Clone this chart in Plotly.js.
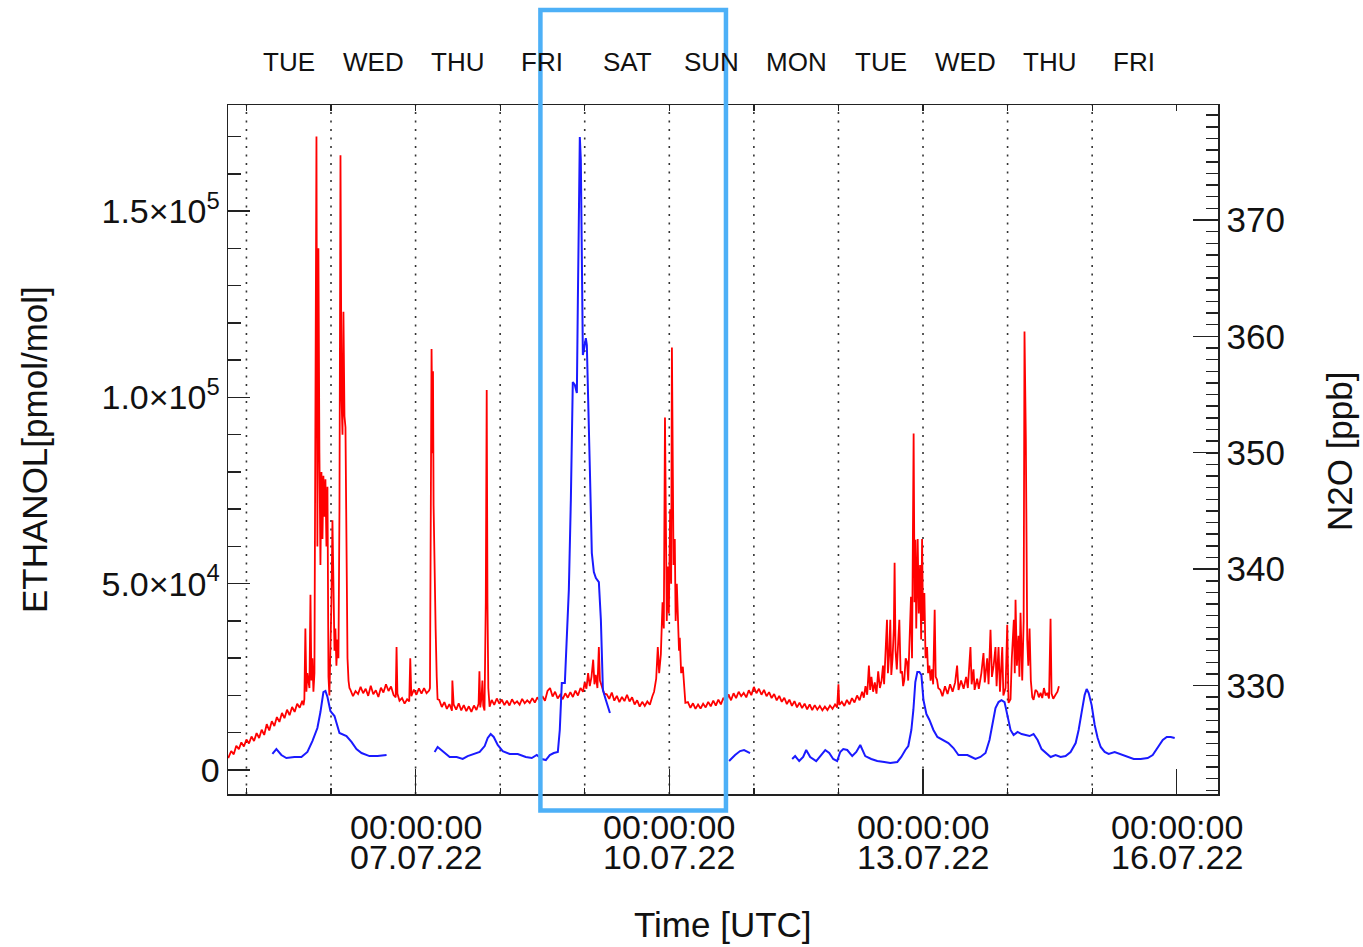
<!DOCTYPE html>
<html><head><meta charset="utf-8">
<script src="https://cdn.plot.ly/plotly-3.0.1.min.js"></script>
<style>html,body{margin:0;padding:0;background:#fff}#chart{width:1363px;height:947px}</style>
</head><body><div id="chart"></div>
<script>
// Time is given as decimal day of July 2022 (UTC)
const ethanolPoints = [
[4.785,3200],[4.82,5100],[4.85,4200],[4.88,6500],[4.91,5600],[4.94,7400],[4.97,6300],[5.00,8200],[5.03,7100],[5.06,9000],[5.09,7800],[5.12,9900],[5.15,8600],[5.18,10800],[5.21,9400],[5.24,12300],[5.27,10600],[5.30,13100],[5.33,11800],[5.36,14200],[5.39,12900],[5.42,15300],[5.45,13900],[5.48,16200],[5.51,14700],[5.54,16900],[5.57,15600],[5.60,17800],[5.63,16700],[5.66,18600],[5.675,17400],
[5.685,19000],[5.697,38000],[5.709,21000],[5.72,26000],[5.745,22000],[5.757,47000],[5.768,24000],[5.78,30000],[5.792,21000],[5.804,26000],[5.816,100000],[5.828,170000],[5.839,60000],[5.851,140000],[5.863,85000],[5.875,55000],[5.887,80000],[5.899,62000],[5.91,79000],[5.922,68000],[5.934,78000],[5.946,60000],[5.958,76000],[5.97,25000],[5.981,20000],[5.993,30000],[6.005,45000],[6.017,67000],[6.029,40000],[6.041,32000],[6.052,38000],[6.064,28000],[6.076,35000],[6.088,30000],[6.10,70000],[6.112,165000],[6.124,100000],[6.136,90000],[6.147,123000],[6.159,95000],[6.171,92000],[6.183,60000],[6.195,30000],[6.207,24000],[6.218,22000],
[6.23,21500],[6.26,19800],[6.29,21200],[6.32,20400],[6.35,22300],[6.38,20600],[6.41,21800],[6.44,19900],[6.47,22600],[6.50,20300],[6.53,21400],[6.56,19600],[6.59,22100],[6.62,20800],[6.65,23000],[6.68,21200],[6.71,22400],[6.74,20100],[6.765,19500],[6.775,33000],[6.785,20500],[6.81,18600],[6.84,19300],[6.87,17800],[6.90,19000],[6.925,18400],[6.937,30000],[6.95,19800],[6.98,21600],[7.01,20200],[7.04,21900],[7.07,20500],[7.10,22000],[7.13,20600],[7.16,21300],
[7.17,22000],[7.178,60000],[7.189,113000],[7.20,85000],[7.206,107000],[7.213,71000],[7.225,48000],[7.237,38000],[7.25,25000],[7.26,19000],
[7.28,18800],[7.31,16900],[7.34,18200],[7.37,16400],[7.40,17700],[7.43,15900],[7.435,24000],[7.45,17600],[7.48,16200],[7.51,17900],[7.54,16000],[7.57,17400],[7.60,15800],[7.63,17100],[7.66,15600],[7.69,17300],[7.72,16100],[7.745,17800],[7.755,26500],[7.765,16800],[7.78,19500],[7.79,24000],[7.80,17200],[7.815,16000],
[7.83,45000],[7.841,102000],[7.85,45000],[7.86,22000],[7.875,17000],
[7.90,18800],[7.93,17500],[7.96,19200],[7.99,17800],[8.02,18900],[8.05,17400],[8.08,18600],[8.11,17300],[8.14,19000],[8.17,17800],[8.20,18400],[8.23,17500],[8.26,19100],[8.29,17900],[8.32,18700],[8.35,18000],[8.38,19300],[8.41,18100],[8.44,19500],[8.47,18400],
[8.50,19800],[8.53,18600],[8.56,21200],[8.59,22000],[8.62,19700],[8.65,21000],[8.68,19200],[8.71,20200],[8.74,19000],[8.77,20600],[8.80,19400],[8.83,20900],[8.86,19600],[8.89,21300],[8.92,20000],[8.95,22000],[8.98,21000],[9.00,23500],[9.02,21800],[9.04,26000],[9.06,22500],[9.08,25000],[9.10,29600],[9.115,23000],[9.13,25500],[9.15,22000],[9.167,33000],[9.18,24000],[9.20,22500],[9.23,20500],
[9.26,20300],[9.29,19100],[9.32,20800],[9.35,18600],[9.38,19900],[9.41,18200],[9.44,19600],[9.47,18500],[9.50,20200],[9.53,18400],[9.56,19500],[9.59,17600],[9.62,18700],[9.65,17000],[9.68,18300],[9.71,17200],[9.74,18400],[9.77,17500],[9.80,19800],
[9.82,21000],[9.845,24500],[9.864,33000],[9.88,26000],[9.90,31000],[9.92,45000],[9.935,38000],[9.949,94600],[9.96,52000],[9.97,40000],[9.982,54600],[9.995,42000],[10.01,70000],[10.022,50000],[10.031,113400],[10.041,78800],[10.05,55000],[10.065,62000],[10.075,40000],[10.089,50000],[10.10,39500],[10.115,32000],[10.124,35500],[10.14,26000],[10.16,27700],[10.175,21000],[10.19,18000],
[10.22,18200],[10.25,16700],[10.28,17900],[10.31,16400],[10.34,17600],[10.37,16500],[10.40,17800],[10.43,16800],[10.46,18300],[10.49,17100],[10.52,18600],[10.55,17300],[10.58,18900],[10.61,17600],[10.64,19400],[10.67,18000],[10.70,20300],[10.73,18700],[10.76,20600],[10.79,19300],[10.82,21000],[10.85,19800],[10.88,20700],[10.91,19500],[10.94,21400],[10.97,20100],[11.00,22300],[11.03,20600],[11.06,21800],[11.09,20200],[11.12,21500],[11.15,19800],[11.18,20900],[11.21,19300],[11.24,20400],[11.27,18700],[11.30,19900],[11.33,18300],[11.36,19400],[11.39,17700],[11.42,18900],[11.45,17200],[11.48,18500],[11.51,16800],[11.54,18100],[11.57,16600],[11.60,17800],[11.63,16300],[11.66,17600],[11.69,16100],[11.72,17400],[11.75,16200],[11.78,17200],[11.81,16000],[11.84,17000],[11.87,16100],[11.90,17300],[11.93,16400],[11.96,17600],[11.985,16800],[12.00,23000],[12.01,17500],[12.04,18300],[12.07,17200],[12.10,18800],[12.13,17600],[12.16,19300],[12.19,18100],[12.22,20000],[12.25,18700],[12.28,21000],[12.30,19400],[12.32,22500],[12.34,20200],[12.36,28000],[12.375,21500],[12.39,25000],[12.41,21000],
[12.43,23500],[12.45,20500],[12.47,26500],[12.49,22000],[12.51,24000],[12.527,28000],[12.54,23000],[12.555,33000],[12.574,40300],[12.585,26000],[12.60,31000],[12.613,40300],[12.625,25500],[12.64,30000],[12.655,38000],[12.664,55600],[12.675,32000],[12.69,27000],[12.705,35000],[12.72,40300],[12.735,26000],[12.752,26500],[12.765,22500],[12.779,24200],[12.795,30000],[12.811,29000],[12.825,24000],[12.84,35000],[12.858,46500],[12.87,30000],[12.889,90300],[12.90,45000],[12.91,61800],[12.92,38000],[12.937,62000],[12.95,42000],[12.965,55000],[12.978,35000],[12.989,62000],[13.00,40000],[13.016,47500],[13.03,30000],[13.048,33000],[13.06,26000],[13.075,28000],[13.09,24000],[13.105,27000],[13.12,23000],[13.138,43000],[13.15,25000],[13.166,24200],[13.18,22000],[13.205,21500],
[13.23,19800],[13.26,22500],[13.29,20400],[13.32,23000],[13.35,21000],[13.38,23500],[13.403,28000],[13.42,21500],[13.45,24000],[13.48,21800],[13.51,25000],[13.53,22000],[13.561,33000],[13.575,23000],[13.597,27000],[13.61,21500],[13.64,24500],[13.66,21800],[13.69,26000],[13.715,31400],[13.73,23500],[13.759,30000],[13.775,23000],[13.798,37600],[13.815,25000],[13.835,28000],[13.857,33000],[13.87,22500],[13.893,33000],[13.91,21000],[13.937,33000],[13.95,20000],[13.976,22000],[13.996,39000],[14.011,18000],[14.035,19000],[14.05,30000],[14.074,40300],[14.085,26000],[14.094,45700],[14.11,28000],[14.129,36000],[14.14,25000],[14.153,42200],[14.173,24000],[14.19,40000],[14.200,117700],[14.216,88700],[14.232,35000],[14.245,28000],[14.26,38000],[14.275,24000],[14.292,19500],[14.307,18800],[14.33,21500],[14.351,21000],[14.37,19500],[14.39,20700],[14.41,19300],[14.43,22000],[14.45,20000],[14.47,20700],[14.49,19200],[14.508,40600],[14.52,20500],[14.54,19100],[14.567,20200],[14.59,21000],[14.607,22500]
];

// null marks a gap in the N2O record
const n2oPoints = [
[5.307,324.12],[5.354,324.54],[5.413,324.03],[5.472,323.77],[5.567,323.86],[5.650,323.86],[5.721,324.29],[5.780,325.23],[5.839,326.35],[5.875,327.72],[5.910,329.44],[5.934,329.53],[5.958,329.01],[5.993,327.81],[6.041,327.38],[6.100,325.92],[6.183,325.66],[6.242,325.15],[6.301,324.54],[6.361,324.20],[6.455,323.94],[6.550,323.94],[6.657,324.03],
null,
[7.225,324.29],[7.261,324.72],[7.332,324.29],[7.403,323.86],[7.486,323.86],[7.557,323.69],[7.616,323.94],[7.687,324.12],[7.758,324.29],[7.817,324.80],[7.853,325.49],[7.888,325.83],[7.924,325.58],[7.971,324.89],[8.030,324.37],[8.113,324.12],[8.208,324.12],[8.303,323.86],[8.374,323.77],[8.433,324.03],[8.492,323.69],[8.540,323.60],[8.587,324.03],[8.634,324.20],[8.682,324.29],[8.705,326.18],[8.729,330.21],[8.765,330.21],[8.788,333.91],[8.812,338.20],[8.836,345.93],[8.847,351.09],[8.859,356.07],[8.883,355.82],[8.907,355.13],[8.919,363.12],[8.930,370.85],[8.942,377.12],[8.954,375.15],[8.966,367.42],[8.978,358.39],[8.990,358.82],[9.013,359.85],[9.025,359.25],[9.037,356.25],[9.061,348.51],[9.084,341.38],[9.108,339.75],[9.132,339.24],[9.167,338.89],[9.191,335.63],[9.215,329.61],[9.250,328.75],[9.298,327.64],
null,
[10.707,323.51],[10.778,324.03],[10.837,324.37],[10.884,324.46],[10.955,324.20],
null,
[11.453,323.69],[11.488,323.94],[11.536,323.51],[11.583,323.86],[11.619,324.46],[11.666,323.86],[11.737,323.51],[11.796,324.03],[11.844,324.46],[11.891,324.20],[11.938,323.69],[11.985,323.51],[12.021,324.29],[12.057,324.54],[12.104,324.46],[12.163,323.94],[12.211,324.29],[12.258,324.89],[12.317,323.94],[12.388,323.69],[12.459,323.51],[12.542,323.43],[12.613,323.34],[12.696,323.43],[12.743,323.86],[12.791,324.46],[12.826,324.80],[12.862,326.18],[12.886,327.90],[12.909,330.30],[12.933,331.16],[12.957,331.16],[12.981,330.90],[13.005,328.75],[13.040,327.55],[13.076,327.04],[13.123,326.18],[13.170,325.58],[13.229,325.32],[13.300,325.06],[13.360,324.63],[13.419,324.03],[13.478,324.03],[13.525,324.03],[13.573,323.86],[13.620,323.69],[13.679,323.86],[13.739,324.20],[13.786,325.32],[13.821,326.78],[13.857,328.07],[13.893,328.58],[13.928,328.75],[13.964,328.58],[13.999,327.47],[14.035,326.18],[14.071,325.75],[14.118,326.01],[14.166,325.83],[14.213,325.75],[14.260,325.66],[14.307,325.83],[14.355,325.32],[14.402,324.54],[14.450,324.20],[14.509,323.86],[14.568,324.03],[14.627,323.86],[14.686,323.94],[14.745,324.29],[14.805,325.06],[14.840,326.18],[14.876,327.72],[14.911,329.18],[14.935,329.70],[14.959,329.36],[14.994,328.32],[15.030,326.61],[15.065,325.49],[15.101,324.72],[15.148,324.29],[15.195,324.12],[15.266,324.29],[15.337,324.12],[15.420,323.86],[15.491,323.69],[15.574,323.69],[15.657,323.77],[15.716,324.03],[15.776,324.63],[15.835,325.32],[15.882,325.58],[15.929,325.58],[15.976,325.49]
];

const dayNames = ['TUE','WED','THU','FRI','SAT','SUN','MON','TUE','WED','THU','FRI'];
const dayNamePos = [5.5,6.5,7.5,8.5,9.5,10.5,11.5,12.5,13.5,14.5,15.5];
const dayBoundaries = [5,6,7,8,9,10,11,12,13,14,15];
const majorTickDays = [7,10,13,16];
const majorTickTime = ['00:00:00','00:00:00','00:00:00','00:00:00'];
const majorTickDate = ['07.07.22','10.07.22','13.07.22','16.07.22'];
const ethTickVals = [0,50000,100000,150000];
const ethTickText = ['0','5.0×10<sup>4</sup>','1.0×10<sup>5</sup>','1.5×10<sup>5</sup>'];
const n2oTickVals = [330,340,350,360,370];
const xRangeDays = [4.782, 16.488];
const ethRange = [-6441, 178476];
const n2oRange = [320.68, 379.88];
const highlightDays = [8.476, 10.67];

function dayToDate(d){
  const ms = Date.UTC(2022,6,1) + (d-1)*86400000;
  return new Date(ms).toISOString().replace('T',' ').replace('Z','');
}

const FONT = 'Liberation Sans, Arial, Helvetica, sans-serif';
const AX = '#222';

const traces = [
  {x: ethanolPoints.map(p=>dayToDate(p[0])), y: ethanolPoints.map(p=>p[1]),
   type:'scatter', mode:'lines', line:{color:'#ff0000', width:1.8}, xaxis:'x', yaxis:'y', hoverinfo:'skip'},
  {x: n2oPoints.map(p=>p?dayToDate(p[0]):null), y: n2oPoints.map(p=>p?p[1]:null),
   type:'scatter', mode:'lines', connectgaps:false, line:{color:'#1a1aff', width:2}, xaxis:'x', yaxis:'y2', hoverinfo:'skip'},
  {x: [dayToDate(xRangeDays[0])], y:[null], type:'scatter', mode:'lines', xaxis:'x2', yaxis:'y', hoverinfo:'skip'}
];

const shapes = dayBoundaries.map(d=>({type:'line', xref:'x', yref:'paper', x0:dayToDate(d), x1:dayToDate(d), y0:0, y1:1,
  line:{color:'#333', width:1.6, dash:'2px,6.5px'}, layer:'below'}));
shapes.push({type:'rect', xref:'x', yref:'paper', x0:dayToDate(highlightDays[0]), x1:dayToDate(highlightDays[1]), y0:-0.024, y1:1.138,
  line:{color:'#4db0f7', width:4.5}, fillcolor:'rgba(0,0,0,0)', layer:'above'});

const annotations = [];
dayNames.forEach((t,i)=>annotations.push({xref:'x', yref:'paper', x:dayToDate(dayNamePos[i]), y:1.0628, text:t, showarrow:false,
  xanchor:'center', yanchor:'middle', font:{family:FONT, size:26, color:'#111'}}));
majorTickDays.forEach((d,i)=>{
  annotations.push({xref:'x', yref:'paper', x:dayToDate(d), y:-0.0486, text:majorTickTime[i], showarrow:false, xanchor:'center', yanchor:'middle', font:{family:FONT, size:34, color:'#111'}});
  annotations.push({xref:'x', yref:'paper', x:dayToDate(d), y:-0.0914, text:majorTickDate[i], showarrow:false, xanchor:'center', yanchor:'middle', font:{family:FONT, size:34, color:'#111'}});
});
annotations.push({xref:'paper', yref:'paper', x:0.4995, y:-0.190, text:'Time [UTC]', showarrow:false, xanchor:'center', yanchor:'middle', font:{family:FONT, size:35, color:'#111'}});
annotations.push({xref:'paper', yref:'paper', x:-0.196, y:0.5007, text:'ETHANOL[pmol/mol]', textangle:-90, showarrow:false, xanchor:'center', yanchor:'middle', font:{family:FONT, size:35, color:'#111'}});
annotations.push({xref:'paper', yref:'paper', x:1.1234, y:0.498, text:'N2O [ppb]', textangle:-90, showarrow:false, xanchor:'center', yanchor:'middle', font:{family:FONT, size:35, color:'#111'}});

const layout = {
  width:1363, height:947,
  margin:{l:228, r:145, t:105, b:153},
  paper_bgcolor:'#fff', plot_bgcolor:'#fff',
  showlegend:false,
  font:{family:FONT, color:'#111'},
  xaxis:{type:'date', range:xRangeDays.map(dayToDate), showgrid:false, zeroline:false,
    showline:true, linecolor:AX, linewidth:1.5,
    tickmode:'array', tickvals:majorTickDays.map(dayToDate), showticklabels:false,
    ticks:'inside', ticklen:25, tickwidth:1.5, tickcolor:AX,
    minor:{ticks:'inside', tick0:dayToDate(5), dtick:86400000, ticklen:6, tickwidth:1.3, tickcolor:AX, showgrid:false}},
  xaxis2:{type:'date', overlaying:'x', side:'top', anchor:'y', range:xRangeDays.map(dayToDate), showgrid:false, zeroline:false,
    showline:true, linecolor:AX, linewidth:1.5, tickmode:'linear', tick0:dayToDate(5), dtick:86400000,
    ticks:'inside', ticklen:6, tickwidth:1.3, tickcolor:AX, showticklabels:false},
  yaxis:{range:ethRange, showgrid:false, zeroline:false, showline:true, linecolor:AX, linewidth:1.5,
    tickmode:'array', tickvals:ethTickVals, ticktext:ethTickText, ticks:'inside', ticklen:22, tickwidth:1.5, tickcolor:AX,
    tickfont:{family:FONT, size:34, color:'#111'},
    minor:{ticks:'inside', tick0:0, dtick:10000, ticklen:13, tickwidth:1.5, tickcolor:AX, showgrid:false}},
  yaxis2:{range:n2oRange, overlaying:'y', side:'right', anchor:'x', showgrid:false, zeroline:false, showline:true, linecolor:AX, linewidth:1.5,
    tickmode:'array', tickvals:n2oTickVals, ticks:'inside', ticklen:25, tickwidth:1.3, tickcolor:AX,
    tickfont:{family:FONT, size:35, color:'#111'},
    minor:{ticks:'inside', tick0:320, dtick:1, ticklen:12, tickwidth:1.5, tickcolor:AX, showgrid:false}},
  shapes:shapes,
  annotations:annotations
};

Plotly.newPlot('chart', traces, layout, {staticPlot:true, displayModeBar:false});
</script>
</body></html>
